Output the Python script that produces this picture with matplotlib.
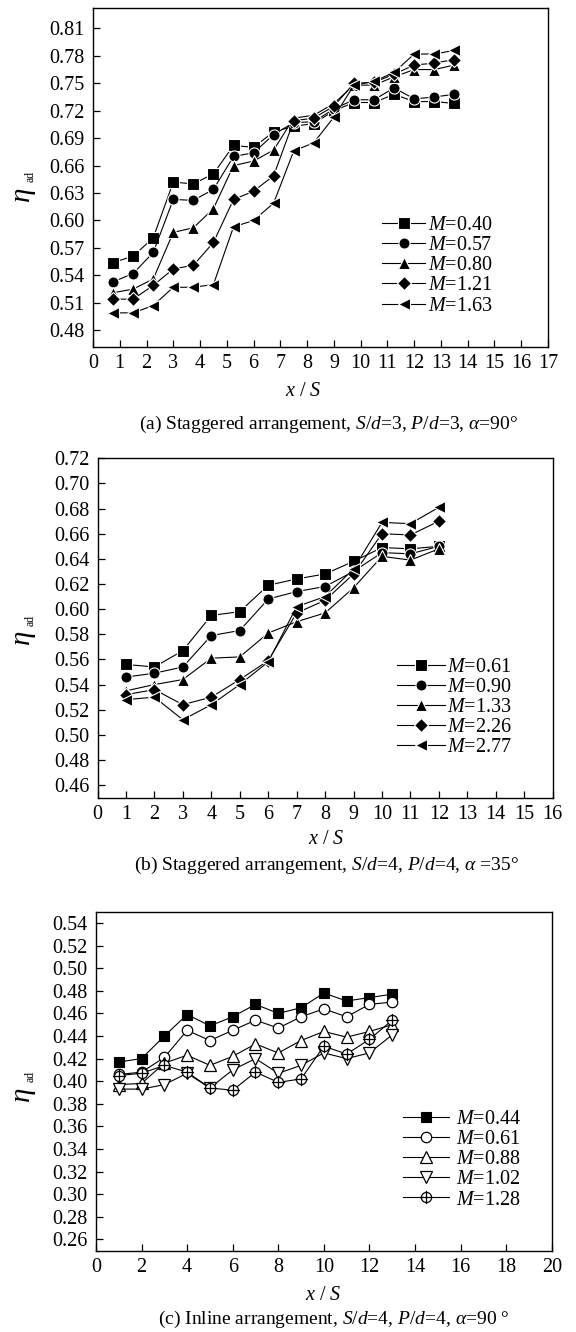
import matplotlib
matplotlib.use('Agg')
import matplotlib.pyplot as plt
from matplotlib.path import Path

plt.rcParams['font.family'] = ['Liberation Serif', 'DejaVu Serif']
plt.rcParams['mathtext.fontset'] = 'custom'
plt.rcParams['mathtext.rm'] = 'Liberation Serif'
plt.rcParams['mathtext.it'] = 'Liberation Serif:italic'
plt.rcParams['mathtext.bf'] = 'Liberation Serif:bold'

# ---------------- data: panel (a) ----------------
x_a = [0.75, 1.5, 2.25, 3.0, 3.75, 4.5, 5.25, 6.0, 6.75, 7.5, 8.25, 9.0,
       9.75, 10.5, 11.25, 12.0, 12.75, 13.5]
labels_a = ['0.40', '0.57', '0.80', '1.21', '1.63']
a_040 = [0.554, 0.561, 0.581, 0.642, 0.640, 0.651, 0.682, 0.680, 0.697, 0.703,
         0.706, 0.720, 0.729, 0.729, 0.738, 0.730, 0.730, 0.728]
a_057 = [0.533, 0.542, 0.565, 0.623, 0.622, 0.634, 0.670, 0.674, 0.694, 0.707,
         0.708, 0.722, 0.732, 0.732, 0.745, 0.733, 0.735, 0.738]
a_080 = [0.521, 0.525, 0.536, 0.587, 0.592, 0.613, 0.660, 0.665, 0.677, 0.712,
         0.715, 0.728, 0.748, 0.748, 0.757, 0.765, 0.765, 0.770]
a_121 = [0.514, 0.514, 0.529, 0.547, 0.551, 0.576, 0.623, 0.632, 0.649, 0.709,
         0.712, 0.725, 0.750, 0.751, 0.760, 0.770, 0.772, 0.776]
a_163 = [0.499, 0.499, 0.507, 0.527, 0.527, 0.530, 0.593, 0.600, 0.619, 0.676,
         0.685, 0.713, 0.748, 0.752, 0.762, 0.782, 0.782, 0.786]
xticks_a = list(range(0, 18))
yticks_a = [0.48, 0.51, 0.54, 0.57, 0.60, 0.63, 0.66, 0.69, 0.72, 0.75, 0.78, 0.81]

# ---------------- data: panel (b) ----------------
x_b = [1, 2, 3, 4, 5, 6, 7, 8, 9, 10, 11, 12]
labels_b = ['0.61', '0.90', '1.33', '2.26', '2.77']
b_061 = [0.556, 0.554, 0.567, 0.595, 0.598, 0.619, 0.624, 0.628, 0.638, 0.649, 0.648, 0.650]
b_090 = [0.546, 0.549, 0.554, 0.579, 0.583, 0.608, 0.614, 0.618, 0.630, 0.645, 0.644, 0.650]
b_133 = [0.535, 0.540, 0.544, 0.561, 0.562, 0.581, 0.590, 0.597, 0.617, 0.642, 0.639, 0.648]
b_226 = [0.532, 0.536, 0.524, 0.530, 0.544, 0.559, 0.597, 0.607, 0.628, 0.660, 0.659, 0.670]
b_277 = [0.528, 0.530, 0.512, 0.524, 0.540, 0.558, 0.602, 0.610, 0.632, 0.669, 0.668, 0.681]
xticks_b = list(range(0, 17))
yticks_b = [0.46, 0.48, 0.50, 0.52, 0.54, 0.56, 0.58, 0.60, 0.62, 0.64, 0.66, 0.68, 0.70, 0.72]

# ---------------- data: panel (c) ----------------
x_c = [1, 2, 3, 4, 5, 6, 7, 8, 9, 10, 11, 12, 13]
labels_c = ['0.44', '0.61', '0.88', '1.02', '1.28']
c_044 = [0.417, 0.420, 0.440, 0.459, 0.449, 0.457, 0.468, 0.460, 0.465, 0.478, 0.471, 0.474, 0.477]
c_061 = [0.406, 0.408, 0.421, 0.445, 0.436, 0.445, 0.454, 0.447, 0.457, 0.464, 0.457, 0.468, 0.470]
c_088 = [0.397, 0.398, 0.416, 0.423, 0.414, 0.422, 0.433, 0.425, 0.436, 0.444, 0.439, 0.444, 0.450]
c_102 = [0.393, 0.393, 0.397, 0.407, 0.394, 0.410, 0.420, 0.407, 0.414, 0.425, 0.420, 0.425, 0.441]
c_128 = [0.405, 0.407, 0.414, 0.408, 0.394, 0.392, 0.408, 0.399, 0.402, 0.431, 0.424, 0.437, 0.454]
xticks_c = [0, 2, 4, 6, 8, 10, 12, 14, 16, 18, 20]
yticks_c = [0.26, 0.28, 0.30, 0.32, 0.34, 0.36, 0.38, 0.40, 0.42, 0.44, 0.46, 0.48, 0.50, 0.52, 0.54]

# ---------------- figure ----------------
W, H = 576, 1332
fig = plt.figure(figsize=(W / 100, H / 100), dpi=100)


def add_ax(l, t, r, b):
    return fig.add_axes([l / W, 1 - b / H, (r - l) / W, (b - t) / H])


def style(ax, xlim, ylim, xt, yt):
    ax.set_xlim(*xlim)
    ax.set_ylim(*ylim)
    ax.set_xticks(xt)
    ax.set_xticklabels([str(v) for v in xt])
    ax.set_yticks(yt)
    ax.set_yticklabels(['%.2f' % v for v in yt])
    ax.tick_params(axis='both', direction='in', length=5, width=0.9,
                   labelsize=14.5, top=False, right=False)
    ax.tick_params(axis='y', pad=6)
    ax.tick_params(axis='x', pad=5)
    for s in ax.spines.values():
        s.set_linewidth(1.0)


def legend(ax, fx, fy, hl, htp):
    ax.legend(loc='upper left', bbox_to_anchor=(fx, fy), frameon=False,
              fontsize=14.5, handlelength=hl, handletextpad=htp,
              labelspacing=0.05, borderpad=0, borderaxespad=0, numpoints=1)


def ftext(x, y, s, **kw):
    fig.text(x / W, 1 - y / H, s, ha='center', va='center', **kw)


# panel (a)
ax = add_ax(93, 8.3, 548, 346.7)
markers_a = ['s', 'o', '^', 'D', '<']
sizes_a = [8, 8, 8.5, 7.5, 9]
for ys, lab, mk, ms in zip([a_040, a_057, a_080, a_121, a_163], labels_a, markers_a, sizes_a):
    ax.plot(x_a, ys, '-', color='k', lw=0.8, marker=mk, ms=ms, mfc='k',
            mec='white', mew=0.8, label='$M$=' + lab)
style(ax, (0, 17), (0.462, 0.832), xticks_a, yticks_a)
legend(ax, 0.635, 0.386, 2.15, 0.15)

# panel (b)
ax = add_ax(97.5, 458.3, 552.7, 797.7)
for ys, lab, mk, ms in zip([b_061, b_090, b_133, b_226, b_277], labels_b, markers_a, sizes_a):
    ax.plot(x_b, ys, '-', color='k', lw=0.8, marker=mk, ms=ms, mfc='k',
            mec='white', mew=0.8, label='$M$=' + lab)
style(ax, (0, 16), (0.45, 0.72), xticks_b, yticks_b)
legend(ax, 0.658, 0.412, 2.4, 0.08)

# panel (c)
ax = add_ax(96, 911.7, 551.7, 1250.7)
oplus = Path.make_compound_path(
    Path.unit_circle(),
    Path([[-1.3, 0], [1.3, 0]], [Path.MOVETO, Path.LINETO]),
    Path([[0, -1.3], [0, 1.3]], [Path.MOVETO, Path.LINETO]))
markers_c = ['s', 'o', '^', 'v', oplus]
sizes_c = [7.5, 7.5, 8.5, 8.5, 9.5]
for i, (ys, lab, mk, ms) in enumerate(zip([c_044, c_061, c_088, c_102, c_128],
                                         labels_c, markers_c, sizes_c)):
    if i == 0:
        ax.plot(x_c, ys, '-', color='k', lw=0.8, marker=mk, ms=ms, mfc='k',
                mec='k', mew=0.8, label='$M$=' + lab)
    else:
        ax.plot(x_c, ys, '-', color='k', lw=0.8, marker=mk, ms=ms, mfc='white',
                mec='k', mew=0.9, label='$M$=' + lab)
style(ax, (0, 20), (0.25, 0.55), xticks_c, yticks_c)
legend(ax, 0.673, 0.415, 2.3, 0.35)

# y axis labels: large italic eta with tiny "ad" subscript
for yc in (195, 638, 1095):
    ftext(25, yc, r'$\eta$', fontsize=21, rotation=90)
    ftext(31, yc - 18, 'ad', fontsize=8.5, rotation=90)

ftext(303, 392, r'$x$ / $S$', fontsize=14.5)
ftext(326, 840, r'$x$ / $S$', fontsize=14.5)
ftext(323, 1296, r'$x$ / $S$', fontsize=14.5)

ftext(329, 424, r'(a) Staggered arrangement, $S$/$d$=3, $P$/$d$=3, $\alpha$=90°', fontsize=14)
ftext(327, 865, r'(b) Staggered arrangement, $S$/$d$=4, $P$/$d$=4, $\alpha$ =35°', fontsize=14)
ftext(334, 1319, r'(c) Inline arrangement, $S$/$d$=4, $P$/$d$=4, $\alpha$=90 °', fontsize=14)

fig.savefig('out.png', dpi=100, facecolor='white')
